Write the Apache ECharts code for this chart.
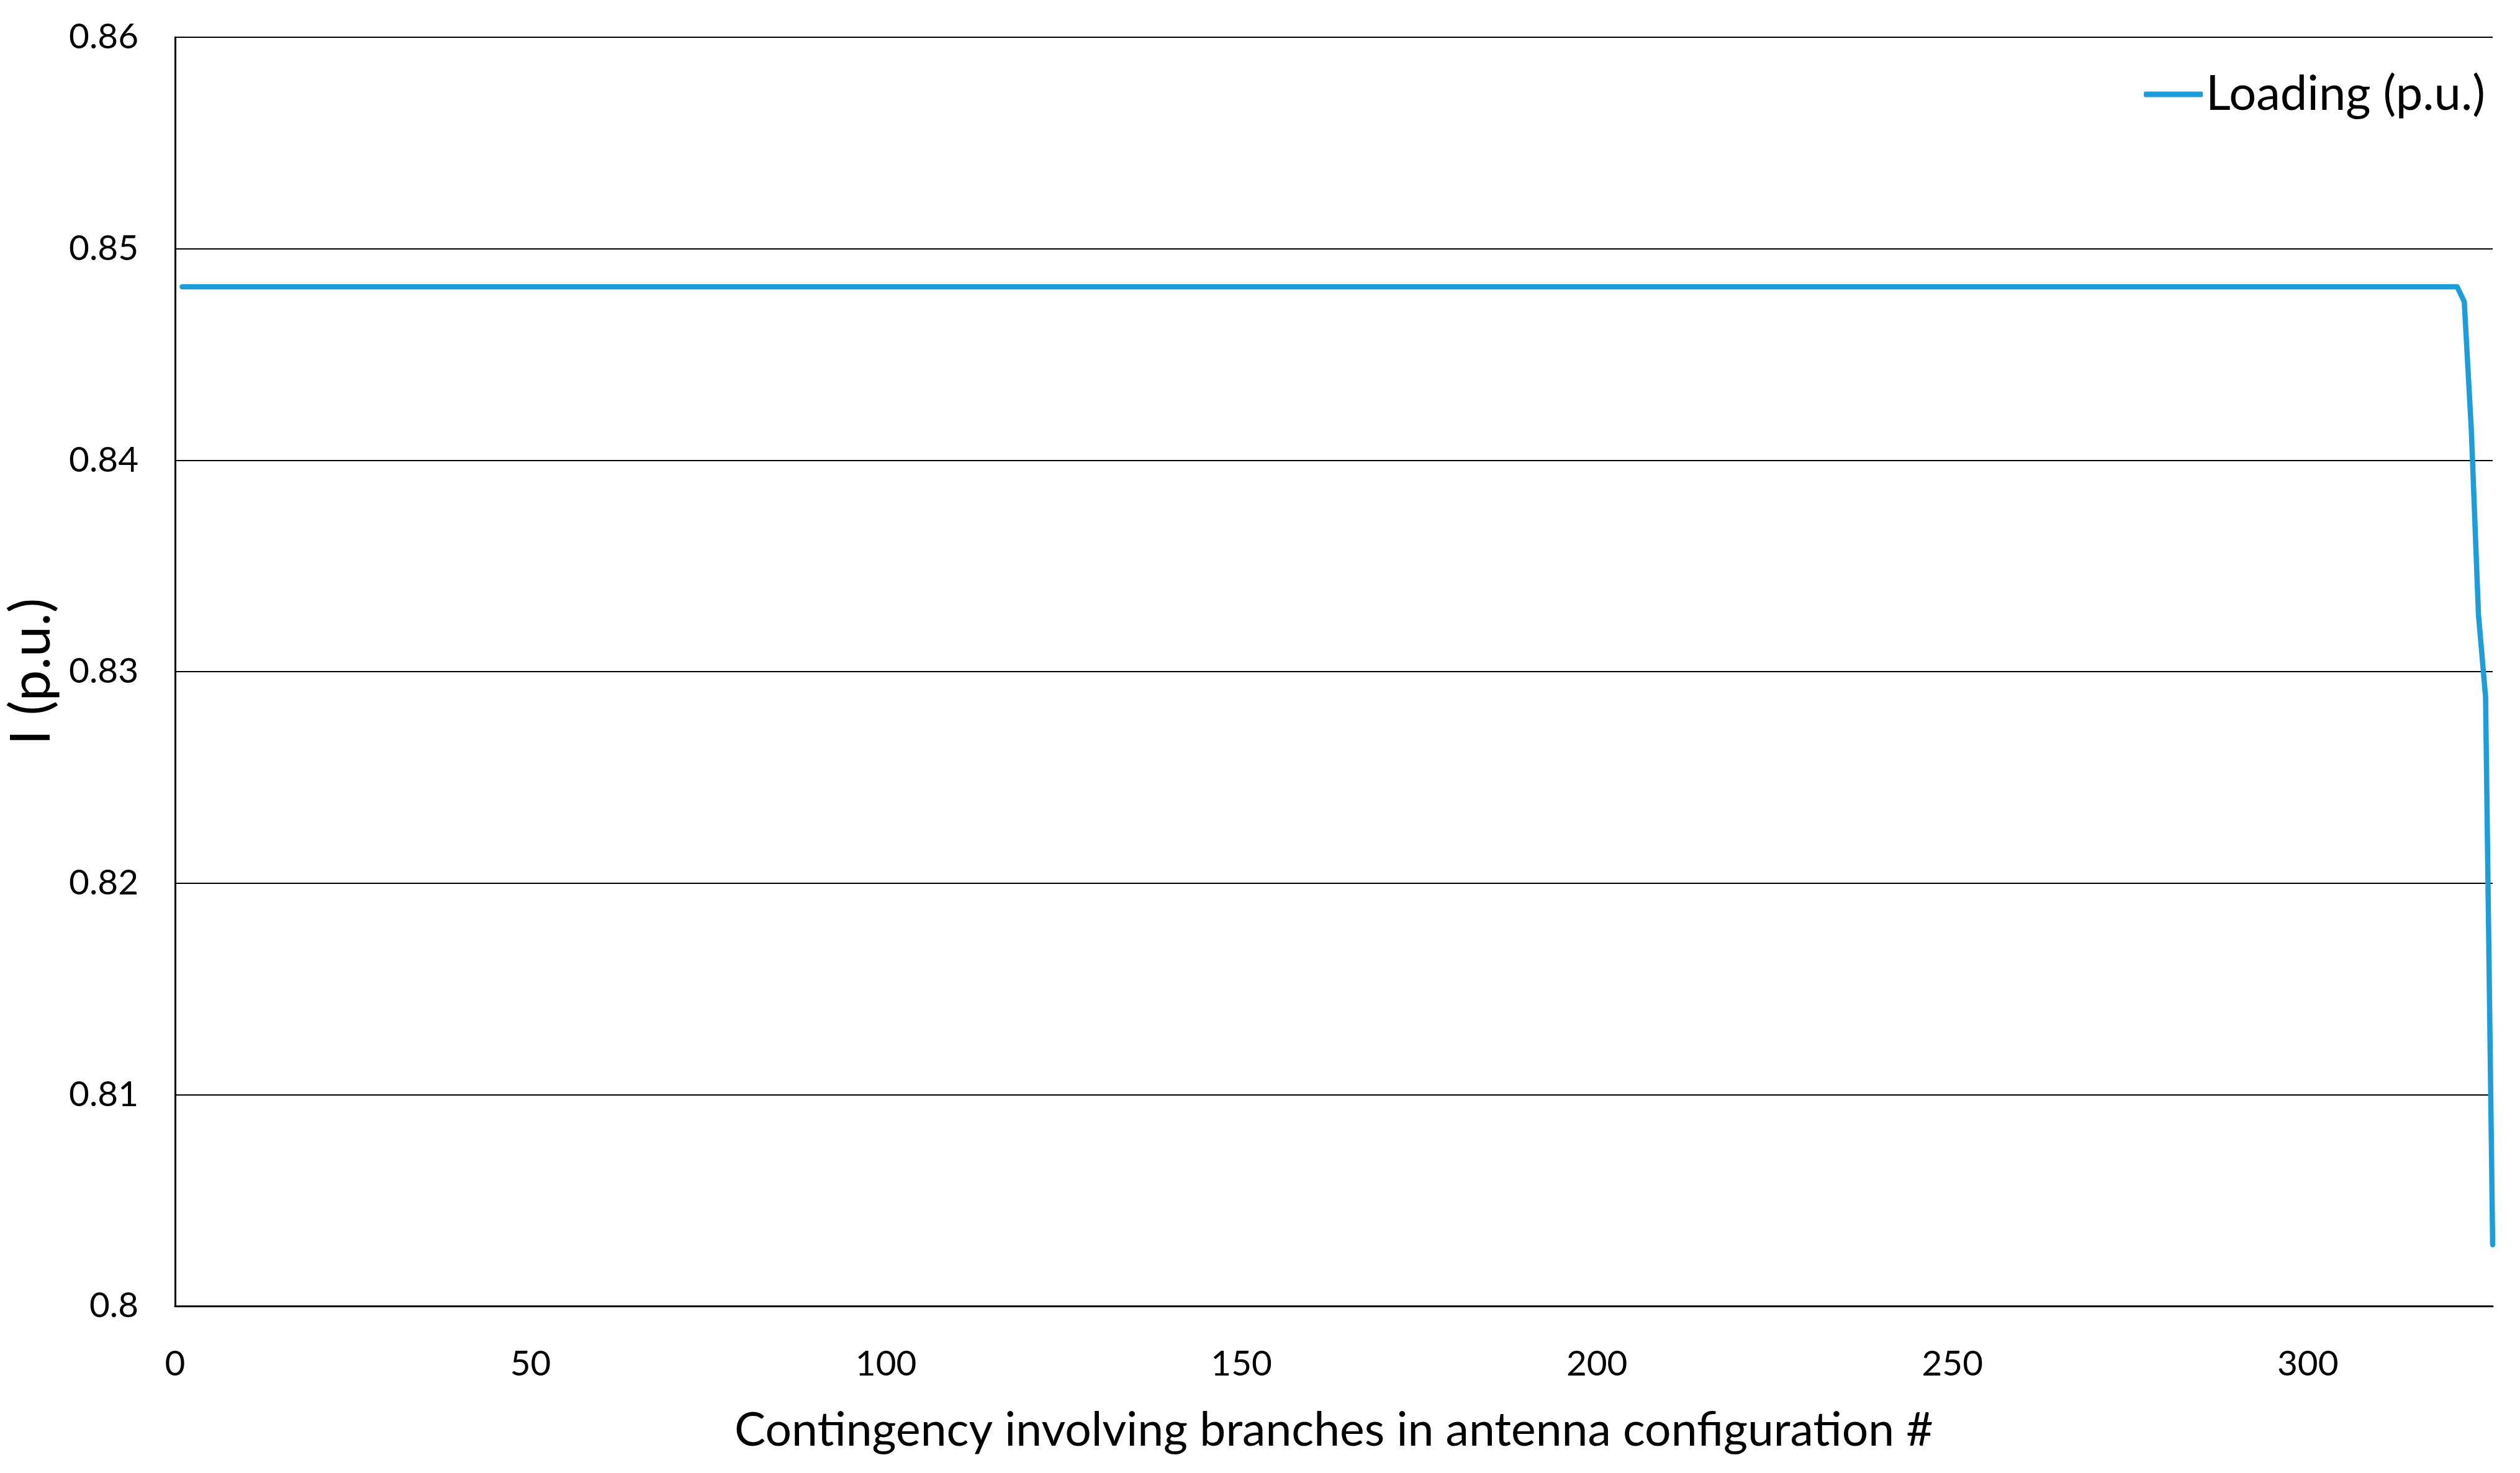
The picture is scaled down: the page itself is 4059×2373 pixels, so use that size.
<!DOCTYPE html>
<html>
<head>
<meta charset="utf-8">
<script src="https://cdn.jsdelivr.net/npm/echarts@6/dist/echarts.min.js"></script>
<style>
html,body{margin:0;padding:0;background:#fff;}
#chart{width:4059px;height:2373px;}
</style>
</head>
<body>
<div id="chart"></div>
<script>
// ---- data ----
const seriesName = 'Loading (p.u.)';
const xTitle = 'Contingency involving branches in antenna configuration #';
const yTitle = 'I (p.u.)';
const contingencyIndex = [1, 50, 100, 150, 200, 250, 300, 321, 322, 323, 324, 325, 326];
const loadingValues   = [0.8482, 0.8482, 0.8482, 0.8482, 0.8482, 0.8482, 0.8482, 0.8482, 0.8475, 0.8414, 0.8327, 0.8288, 0.8029];
const xAxisRange = [0, 326];
const xTickStep = 50;
const yAxisRange = [0.80, 0.86];
const yTickStep = 0.01;

// ---- font fitting helper ----
const FONT = 'Lato';
const mctx = document.createElement('canvas').getContext('2d');
function fitSize(text, targetWidth) {
  mctx.font = '100px ' + FONT;
  return 100 * targetWidth / mctx.measureText(text).width;
}
const tickSize = fitSize('0.86', 112);
const xTitleSize = fitSize(xTitle, 1931);
const yTitleSize = fitSize(yTitle, 237);
const legendSize = fitSize(seriesName, 450);

const points = contingencyIndex.map((x, i) => [x, loadingValues[i]]);
const LINE_COLOR = '#1E9DD8';

const chart = echarts.init(document.getElementById('chart'), null, {renderer: 'canvas'});
chart.setOption({
  animation: false,
  backgroundColor: '#ffffff',
  grid: {left: 282, right: 44, top: 60, bottom: 269, containLabel: false, outerBoundsMode: 'none'},
  legend: {
    show: true,
    right: 56, top: 113, padding: 0,
    itemWidth: 95, itemHeight: 9, itemGap: 0,
    icon: 'roundRect',
    itemStyle: {color: LINE_COLOR, borderWidth: 0},
    data: [seriesName],
    textStyle: {fontFamily: FONT, fontSize: legendSize, color: '#000'}
  },
  xAxis: {
    type: 'value', min: xAxisRange[0], max: xAxisRange[1], interval: xTickStep,
    name: xTitle, nameLocation: 'middle', nameGap: 163,
    nameTextStyle: {fontFamily: FONT, fontSize: xTitleSize, color: '#000'},
    axisLine: {show: true, lineStyle: {color: '#000', width: 3}},
    axisTick: {show: false},
    splitLine: {show: false},
    axisLabel: {fontFamily: FONT, fontSize: tickSize, color: '#000', margin: 65, showMaxLabel: false}
  },
  yAxis: {
    type: 'value', min: yAxisRange[0], max: yAxisRange[1], interval: yTickStep,
    name: yTitle, nameLocation: 'middle', nameGap: 186,
    nameTextStyle: {fontFamily: FONT, fontSize: yTitleSize, color: '#000'},
    axisLine: {show: true, lineStyle: {color: '#000', width: 3}},
    axisTick: {show: false},
    splitLine: {show: true, lineStyle: {color: '#000', width: 2}},
    axisLabel: {fontFamily: FONT, fontSize: tickSize, color: '#000', margin: 59,
      formatter: v => String(Math.round(v * 100) / 100)}
  },
  series: [{
    name: seriesName,
    type: 'line',
    data: points,
    symbol: 'none',
    smooth: false,
    lineStyle: {color: LINE_COLOR, width: 8.5, cap: 'round', join: 'round'},
    itemStyle: {color: LINE_COLOR}
  }]
});
</script>
</body>
</html>
